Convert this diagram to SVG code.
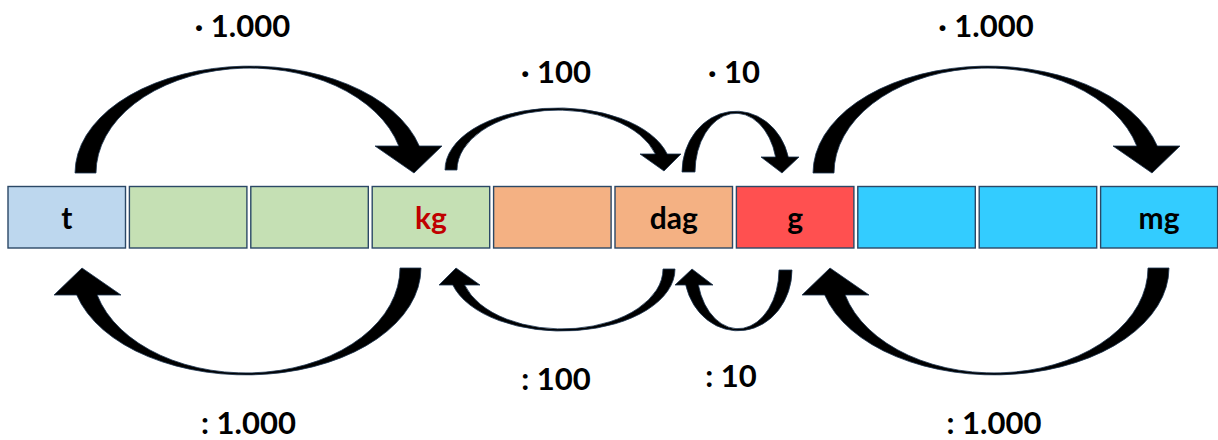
<svg xmlns="http://www.w3.org/2000/svg" xmlns:xlink="http://www.w3.org/1999/xlink" width="1218" height="440" viewBox="0 0 1218 440">
<style>
.box{stroke:#2b4866;stroke-width:1.4}
.lbl{font-family:Lato,"Open Sans","Liberation Sans",sans-serif;font-weight:bold;font-size:30px;text-anchor:middle;fill:#000}
.num{font-family:Lato,"Open Sans","Liberation Sans",sans-serif;font-weight:bold;font-size:31px;text-anchor:middle;fill:#000}
.arr{fill:#000;stroke:#1d3550;stroke-width:0.8;stroke-linejoin:miter}
</style>
<defs>
<path id="a1" d="M75,173 A175,107 0 0 1 419.3,146 L442,146 L414,173 L375,146 L398.8,146 A154,105 0 0 0 96,173 Z"/>
<path id="a2" d="M445,170 A113,62 0 0 1 667.2,154 L681,154 L664,171 L640,154 L655.3,154 A101,60 0 0 0 457,170 Z"/>
<path id="a3" d="M682,172 A54,61 0 0 1 788.3,157 L799,157 L782,173 L761,157 L775.6,157 A41,59 0 0 0 695,172 Z"/>
</defs>
<rect width="1218" height="440" fill="#fff"/>
<g id="n-t"><rect class="box" x="8" y="186.5" width="117.5" height="61.5" fill="#BDD7EE"/><text class="lbl" x="66.8" y="228.5">t</text></g>
<g id="n-hg"><rect class="box" x="129.4" y="186.5" width="117.5" height="61.5" fill="#C5E0B4"/></g>
<g id="n-dag2"><rect class="box" x="250.8" y="186.5" width="117.5" height="61.5" fill="#C5E0B4"/></g>
<g id="n-kg"><rect class="box" x="372.2" y="186.5" width="117.5" height="61.5" fill="#C5E0B4"/><text class="lbl" x="431" y="228.5" style="fill:#C00000">kg</text></g>
<g id="n-hg2"><rect class="box" x="493.6" y="186.5" width="117.5" height="61.5" fill="#F4B183"/></g>
<g id="n-dag"><rect class="box" x="615" y="186.5" width="117.5" height="61.5" fill="#F4B183"/><text class="lbl" x="673.8" y="228.5">dag</text></g>
<g id="n-g"><rect class="box" x="736.4" y="186.5" width="117.5" height="61.5" fill="#FF5050"/><text class="lbl" x="795.2" y="228.5">g</text></g>
<g id="n-dg"><rect class="box" x="857.8" y="186.5" width="117.5" height="61.5" fill="#33CCFF"/></g>
<g id="n-cg"><rect class="box" x="979.2" y="186.5" width="117.5" height="61.5" fill="#33CCFF"/></g>
<g id="n-mg"><rect class="box" x="1100.6" y="186.5" width="117" height="61.5" fill="#33CCFF"/><text class="lbl" x="1159" y="228.5">mg</text></g>
<g id="connectors">
<use xlink:href="#a1" class="arr"/>
<use xlink:href="#a1" class="arr" transform="translate(738,0)"/>
<use xlink:href="#a2" class="arr"/>
<use xlink:href="#a3" class="arr"/>
<use xlink:href="#a1" class="arr" transform="rotate(180,248,220.5)"/>
<use xlink:href="#a1" class="arr" transform="rotate(180,622,220.5)"/>
<use xlink:href="#a2" class="arr" transform="rotate(180,560,219.5)"/>
<use xlink:href="#a3" class="arr" transform="rotate(180,737,221)"/>
</g>
<g id="labels">
<text class="num" x="242.5" y="37">· 1.000</text>
<text class="num" x="986" y="37">· 1.000</text>
<text class="num" x="556" y="83">· 100</text>
<text class="num" x="734" y="83">· 10</text>
<text class="num" x="248.5" y="434">: 1.000</text>
<text class="num" x="994" y="434">: 1.000</text>
<text class="num" x="556" y="390">: 100</text>
<text class="num" x="731" y="387">: 10</text>
</g>
</svg>
